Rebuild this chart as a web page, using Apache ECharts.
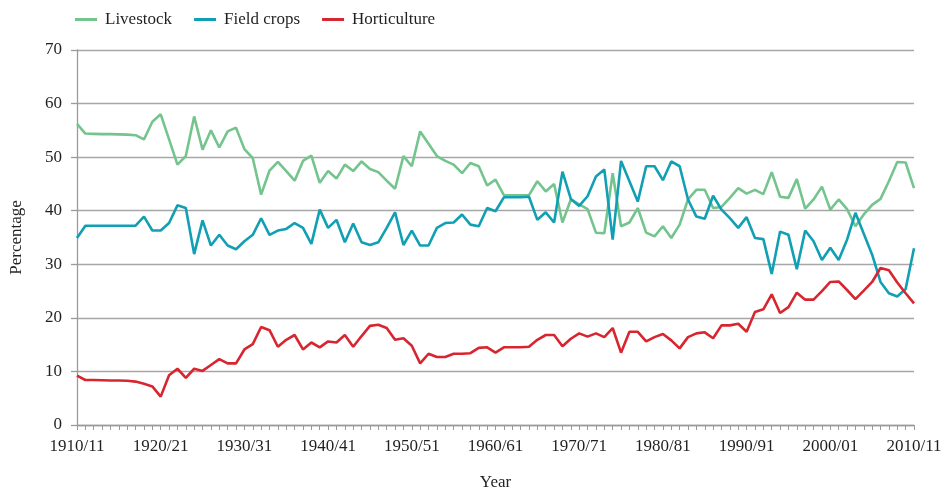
<!DOCTYPE html>
<html lang="en">
<head>
    <meta charset="UTF-8">
    <title>echarts</title>
    <script src="https://cdn.jsdelivr.net/npm/echarts/dist/echarts.min.js"></script>
    <style>
        html, body { margin: 0; padding: 0; background: #fff; }
    </style>
</head>
<body>
<div id="main" style="width: 948px;height:490px;"></div>
<script type="text/javascript">
    // 年份 1910/11 - 2010/11
    var years = [];
    for (var y = 1910; y <= 2010; y++) {
        years.push(y + '/' + String((y + 1) % 100).padStart(2, '0'));
    }

    var livestock = [
        56.2, 54.4, 54.35, 54.3, 54.3, 54.25, 54.2, 54.1, 53.3, 56.6,
        58.0, 53.3, 48.6, 50.2, 57.6, 51.4, 55.0, 51.8, 54.8, 55.5,
        51.5, 49.8, 43.0, 47.5, 49.1, 47.4, 45.6, 49.3, 50.3, 45.2,
        47.4, 46.0, 48.6, 47.4, 49.2, 47.8, 47.2, 45.6, 44.1, 50.2,
        48.3, 54.8, 52.5, 50.2, 49.3, 48.6, 47.0, 48.9, 48.3, 44.7,
        45.8, 42.9, 42.9, 42.9, 42.9, 45.5, 43.6, 45.0, 37.8, 42.1,
        41.2, 40.3, 35.9, 35.8, 47.0, 37.1, 37.8, 40.5, 35.9, 35.2,
        37.1, 34.9, 37.4, 42.1, 43.9, 43.9, 40.5, 40.7, 42.4, 44.2,
        43.2, 43.9, 43.1, 47.2, 42.6, 42.4, 45.9, 40.4, 42.1, 44.5,
        40.2, 42.1, 40.3, 37.1, 39.3, 41.1, 42.2, 45.5, 49.1, 49.0,
        44.2
    ];

    var fieldCrops = [
        34.9, 37.2, 37.2, 37.2, 37.2, 37.2, 37.2, 37.2, 38.9, 36.3,
        36.3, 37.7, 41.0, 40.5, 31.9, 38.2, 33.5, 35.5, 33.5, 32.8,
        34.3, 35.5, 38.6, 35.5, 36.3, 36.6, 37.7, 36.8, 33.8, 40.2,
        36.8, 38.3, 34.1, 37.6, 34.1, 33.6, 34.1, 36.8, 39.7, 33.6,
        36.3, 33.5, 33.5, 36.8, 37.7, 37.8, 39.3, 37.4, 37.1, 40.5,
        39.9, 42.5, 42.5, 42.5, 42.6, 38.3, 39.7, 37.8, 47.3, 42.2,
        40.9, 42.7, 46.4, 47.7, 34.6, 49.3, 45.5, 41.7, 48.3, 48.3,
        45.7, 49.2, 48.3, 42.1, 38.9, 38.5, 42.8, 40.2, 38.6, 36.8,
        38.8, 34.9, 34.7, 28.2, 36.1, 35.5, 29.1, 36.3, 34.3, 30.8,
        33.1, 30.8, 34.6, 39.6, 35.7, 31.8, 26.7, 24.6, 24.0, 25.4,
        33.0
    ];

    var horticulture = [
        9.2, 8.4, 8.4, 8.35, 8.3, 8.3, 8.25, 8.1, 7.7, 7.2,
        5.3, 9.3, 10.5, 8.8, 10.5, 10.1, 11.2, 12.3, 11.5, 11.5,
        14.1, 15.1, 18.3, 17.7, 14.6, 15.9, 16.8, 14.1, 15.4, 14.5,
        15.6, 15.4, 16.8, 14.6, 16.6, 18.5, 18.7, 18.1, 15.9, 16.2,
        14.8, 11.5, 13.3, 12.7, 12.7, 13.3, 13.3, 13.4, 14.4, 14.5,
        13.5, 14.5, 14.5, 14.5, 14.6, 15.9, 16.8, 16.8, 14.7, 16.1,
        17.1, 16.5, 17.1, 16.4, 18.1, 13.5, 17.4, 17.4, 15.6, 16.4,
        17.0, 15.8, 14.3, 16.4, 17.1, 17.3, 16.2, 18.6, 18.6, 18.9,
        17.4, 21.1, 21.6, 24.4, 20.9, 22.0, 24.7, 23.4, 23.4, 25.0,
        26.7, 26.8, 25.2, 23.5, 25.1, 26.7, 29.3, 28.9, 26.6, 24.6,
        22.7
    ];

    var seriesNames = ['Livestock', 'Field crops', 'Horticulture'];
    var seriesColors = ['#74c48d', '#119fb4', '#d7262f'];
    var seriesData = [livestock, fieldCrops, horticulture];

    var font = 'Liberation Serif';
    var chart = echarts.init(document.getElementById('main'));

    var option = {
        animation: false,
        textStyle: { fontFamily: font },
        legend: {
            top: 6,
            left: 70,
            icon: 'rect',
            itemWidth: 22,
            itemHeight: 3,
            itemGap: 22,
            textStyle: { fontFamily: font, fontSize: 17, color: '#231f20', padding: [0, 0, 0, 3] },
            data: seriesNames
        },
        grid: {
            left: 77,
            right: 34,
            top: 50,
            bottom: 65,
            containLabel: false,
            outerBoundsMode: 'none'
        },
        xAxis: {
            type: 'category',
            data: years,
            boundaryGap: false,
            name: 'Year',
            nameLocation: 'middle',
            nameGap: 49,
            nameTextStyle: { fontFamily: font, fontSize: 17, color: '#231f20' },
            axisLine: { lineStyle: { color: '#9a9a9a', width: 1.3 } },
            axisTick: { show: true, interval: 0, length: 5, lineStyle: { color: '#9a9a9a', width: 1 } },
            axisLabel: { interval: 9, margin: 13, fontFamily: font, fontSize: 17, color: '#231f20' },
            splitLine: { show: false }
        },
        yAxis: {
            type: 'value',
            min: 0,
            max: 70,
            interval: 10,
            name: 'Percentage',
            nameLocation: 'middle',
            nameGap: 52,
            nameRotate: 90,
            nameTextStyle: { fontFamily: font, fontSize: 17, color: '#231f20' },
            axisLine: { show: true, lineStyle: { color: '#9a9a9a', width: 1.3 } },
            axisTick: { show: true, length: 6, lineStyle: { color: '#9a9a9a', width: 1.3 } },
            axisLabel: { margin: 15, fontFamily: font, fontSize: 17, color: '#231f20' },
            splitLine: { lineStyle: { color: '#a6a6a6', width: 1.3 } }
        },
        series: seriesNames.map(function (name, i) {
            return {
                name: name,
                type: 'line',
                data: seriesData[i],
                symbol: 'none',
                color: seriesColors[i],
                lineStyle: { width: 2.6, color: seriesColors[i] }
            };
        })
    };

    chart.setOption(option);
</script>
</body>
</html>
